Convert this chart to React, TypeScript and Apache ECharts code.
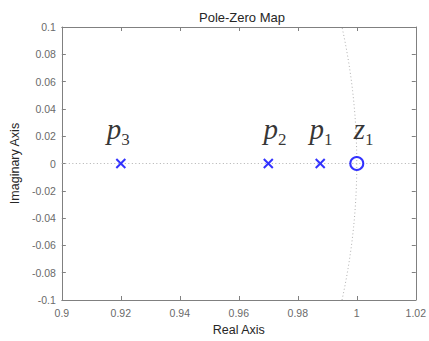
import React, { useEffect, useRef } from "react";
import * as echarts from "echarts";

// Pole / zero locations (real, imaginary)
const poles: number[][] = [
  [0.9876, 0],
  [0.97, 0],
  [0.92, 0],
];
const zeros: number[][] = [[1.0, 0]];

// Annotation texts and their anchor positions in data coordinates
const labelNames = ["p1", "p2", "p3", "z1"];
const labelX = [0.9840, 0.9684, 0.9152, 0.9990];
const labelY = [0.02, 0.02, 0.02, 0.02];

const xTicks = { min: 0.9, max: 1.02, step: 0.02 };
const yTicks = { min: -0.1, max: 0.1, step: 0.02 };

const LINE = "#808080";
const TXT = "#6a6a6a";
const DOT = "#b0b0b0";
const BLUE = "#0000ff";
const SERIF = "'Liberation Serif', 'Times New Roman', serif";
const SANS = "'Liberation Sans', Arial, sans-serif";

const fmt = (v: number) => String(parseFloat(v.toFixed(4)));

export default function App() {
  const ref = useRef<HTMLDivElement>(null);
  useEffect(() => {
    if (!ref.current) return;
    const chart = echarts.init(ref.current, undefined, { renderer: "svg" });
    const axisBase = {
      type: "value" as const,
      axisLine: { show: true, onZero: false, lineStyle: { color: LINE, width: 1 } },
      axisTick: { show: true, inside: true, length: 4, lineStyle: { color: LINE } },
      splitLine: { show: false },
    };
    const labelData = labelNames.map((n, i) => ({
      value: [labelX[i], labelY[i]],
      name: n,
    }));
    chart.setOption({
      animation: false,
      backgroundColor: "#ffffff",
      title: {
        text: "Pole-Zero Map",
        left: 237,
        textAlign: "center",
        top: 6,
        textStyle: {
          fontFamily: SANS,
          fontSize: 13,
          fontWeight: "normal",
          color: "#262626",
        },
      },
      grid: { left: 57, right: 12, top: 27, bottom: 40, containLabel: false },
      xAxis: [
        {
          ...axisBase,
          min: xTicks.min,
          max: xTicks.max,
          interval: xTicks.step,
          position: "bottom",
          name: "Real Axis",
          nameLocation: "middle",
          nameGap: 23,
          nameTextStyle: { fontFamily: SANS, fontSize: 12.5, color: "#262626" },
          axisLabel: {
            fontFamily: SANS,
            fontSize: 10.5,
            color: TXT,
            margin: 7,
            formatter: (v: number) => fmt(v),
          },
        },
        {
          ...axisBase,
          min: xTicks.min,
          max: xTicks.max,
          interval: xTicks.step,
          position: "top",
          axisLabel: { show: false },
        },
      ],
      yAxis: [
        {
          ...axisBase,
          min: yTicks.min,
          max: yTicks.max,
          interval: yTicks.step,
          position: "left",
          name: "Imaginary Axis",
          nameLocation: "middle",
          nameGap: 37,
          nameTextStyle: { fontFamily: SANS, fontSize: 12.5, color: "#262626" },
          axisLabel: {
            fontFamily: SANS,
            fontSize: 10.5,
            color: TXT,
            margin: 6,
            formatter: (v: number) => fmt(v),
          },
        },
        {
          ...axisBase,
          min: yTicks.min,
          max: yTicks.max,
          interval: yTicks.step,
          position: "right",
          axisLabel: { show: false },
        },
      ],
      series: [
        {
          type: "custom",
          silent: true,
          z: 1,
          data: [[0, 0, 1]],
          renderItem: (params: any, api: any) => {
            const cx = api.value(0);
            const cy = api.value(1);
            const r = api.value(2);
            const a = Math.asin(0.1 / r);
            const pts: number[][] = [];
            const n = 60;
            for (let k = 0; k <= n; k++) {
              const t = -a + (2 * a * k) / n;
              pts.push(api.coord([cx + r * Math.cos(t), cy + r * Math.sin(t)]));
            }
            return {
              type: "polyline",
              shape: { points: pts },
              style: { stroke: DOT, lineWidth: 1, lineDash: [1, 2.5], fill: "none" },
            };
          },
          markLine: {
            silent: true,
            symbol: "none",
            label: { show: false },
            lineStyle: { color: DOT, width: 1, type: [1, 2.5] },
            data: [{ yAxis: 0 }],
          },
        },
        {
          type: "scatter",
          z: 5,
          data: poles,
          symbol: "path://M0,0L10,10M10,0L0,10",
          symbolSize: 9,
          itemStyle: { color: "none", borderColor: BLUE, borderWidth: 2 },
        },
        {
          type: "scatter",
          z: 5,
          data: zeros,
          symbol: "circle",
          symbolSize: 13,
          itemStyle: { color: "rgba(0,0,0,0)", borderColor: BLUE, borderWidth: 2 },
        },
        {
          type: "scatter",
          z: 6,
          silent: true,
          symbolSize: 0,
          data: labelData,
          label: {
            show: true,
            position: [0, 0],
            align: "left",
            verticalAlign: "bottom",
            offset: [0, 7],
            formatter: (p: any) => `{a|${p.name[0]}}{b|${p.name.slice(1)}}`,
            rich: {
              a: {
                fontFamily: SERIF,
                fontStyle: "italic",
                fontSize: 29,
                lineHeight: 29,
                color: "#000",
                verticalAlign: "top",
              },
              b: {
                fontFamily: SERIF,
                fontSize: 17,
                lineHeight: 17,
                color: "#000",
                verticalAlign: "top",
                padding: [17, 0, 0, 0],
              },
            },
          },
        },
      ],
    });
    return () => chart.dispose();
  }, []);
  return (
    <div
      ref={ref}
      style={{ position: "fixed", left: 0, top: 0, width: 429, height: 341 }}
    />
  );
}
